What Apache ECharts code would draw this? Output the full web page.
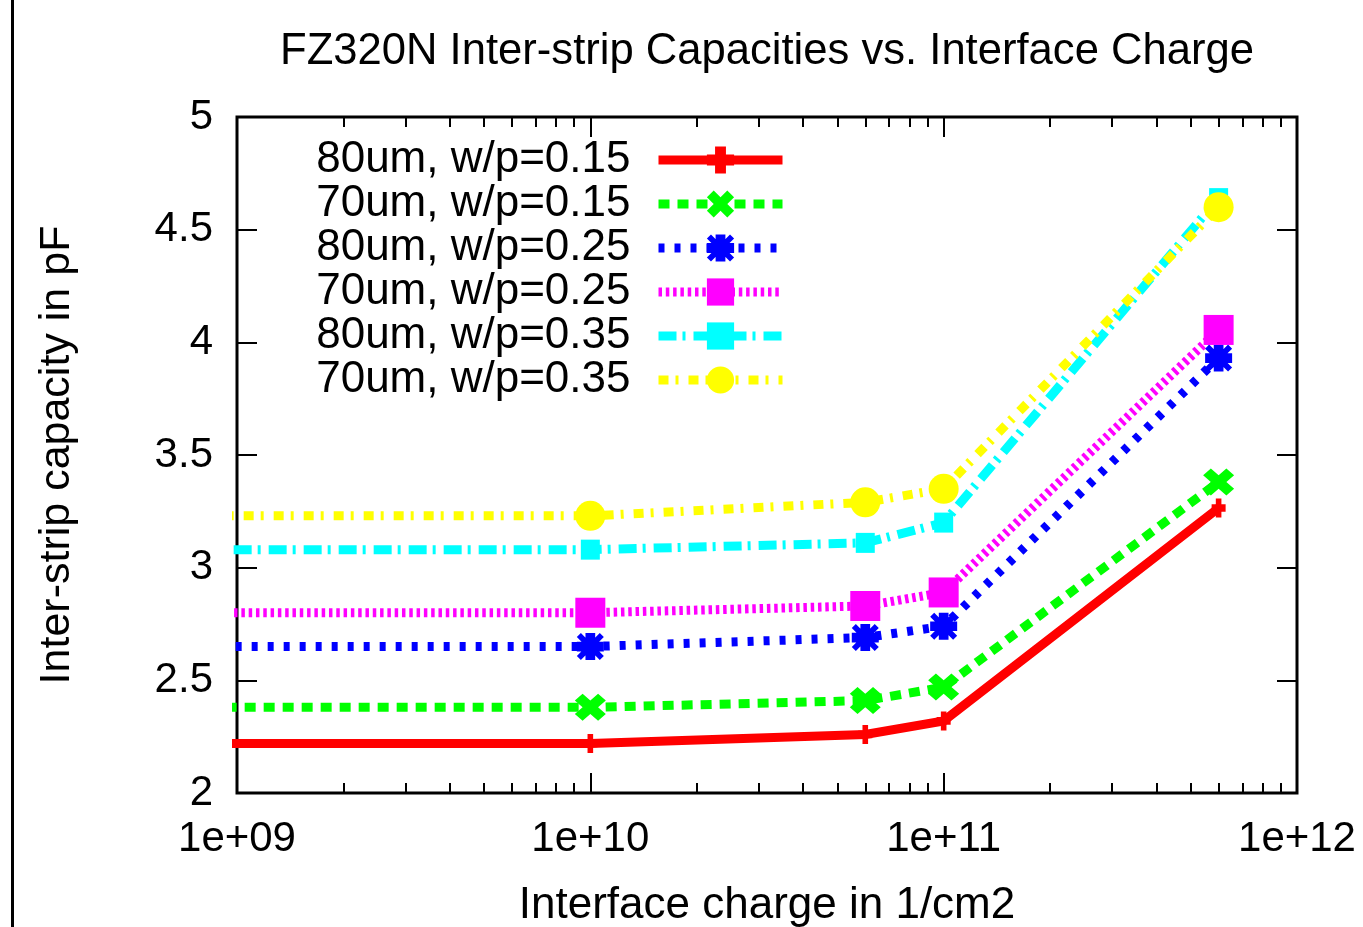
<!DOCTYPE html>
<html>
<head>
<meta charset="utf-8">
<script src="https://cdn.jsdelivr.net/npm/echarts@6/dist/echarts.min.js"></script>
<style>
  html, body { margin: 0; padding: 0; background: #fff; }
  #chart { width: 1363px; height: 927px; }
</style>
</head>
<body>
<div id="chart"></div>
<script>
// Interface charge (1/cm2) of the simulated points
const charges = [1e8, 1e10, 6e10, 1e11, 6e11];

// Inter-strip capacity in pF per geometry
const c80w15 = [2.22, 2.22, 2.26, 2.32, 3.265];
const c70w15 = [2.38, 2.38, 2.41, 2.47, 3.38];
const c80w25 = [2.65, 2.65, 2.69, 2.74, 3.93];
const c70w25 = [2.80, 2.80, 2.83, 2.89, 4.055];
const c80w35 = [3.08, 3.08, 3.11, 3.20, 4.64];
const c70w35 = [3.23, 3.23, 3.29, 3.35, 4.60];

const seriesNames = [
  '80um, w/p=0.15', '70um, w/p=0.15', '80um, w/p=0.25',
  '70um, w/p=0.25', '80um, w/p=0.35', '70um, w/p=0.35'
];

// Axis ranges and tick positions
const xDecades = [9, 10, 11, 12];
const yMin = 2, yMax = 5, yStep = 0.5;

const minorTicks = [];
for (let d = xDecades[0]; d < xDecades[xDecades.length - 1]; d++) {
  for (let m = 2; m <= 9; m++) minorTicks.push(m * Math.pow(10, d));
}

const FONT = 'Liberation Sans, Arial, Helvetica, sans-serif';

// gnuplot-like point glyphs
const SYM_PLUS = 'path://M3,0H7V3H10V7H7V10H3V7H0V3H3Z';
const SYM_CROSS = 'path://M0,2.5L2.5,0L5,2.5L7.5,0L10,2.5L7.5,5L10,7.5L7.5,10L5,7.5L2.5,10L0,7.5L2.5,5Z';
const SYM_STAR = 'path://M3.2,0H6.8V3.2H10V6.8H6.8V10H3.2V6.8H0V3.2H3.2Z M1.5,0L5,3.5L8.5,0L10,1.5L6.5,5L10,8.5L8.5,10L5,6.5L1.5,10L0,8.5L3.5,5L0,1.5Z';

const styles = [
  { values: c80w15, color: '#ff0000', dash: 'solid',          symbol: SYM_PLUS,  size: [14, 19] },
  { values: c70w15, color: '#00ff00', dash: [11, 8],          symbol: SYM_CROSS, size: [31, 27] },
  { values: c80w25, color: '#0000ff', dash: [6, 10],          symbol: SYM_STAR,  size: 27 },
  { values: c70w25, color: '#ff00ff', dash: [3.5, 3.8],       symbol: 'rect',    size: 30 },
  { values: c80w35, color: '#00ffff', dash: [18, 6, 3, 8],    symbol: 'rect',    size: [19, 20] },
  { values: c70w35, color: '#ffff00', dash: [10, 7, 3, 10],   symbol: 'circle',  size: 30 }
];

const series = styles.map((s, i) => ({
  name: seriesNames[i],
  type: 'line',
  xAxisIndex: 0,
  yAxisIndex: 0,
  data: charges.map((x, k) => [x, s.values[k]]),
  symbol: s.symbol,
  symbolSize: s.size,
  showAllSymbol: true,
  clip: true,
  animation: false,
  lineStyle: { color: s.color, width: 9, type: s.dash, cap: 'butt', join: 'miter' },
  itemStyle: { color: s.color, borderWidth: 0 },
  emphasis: { disabled: true }
}));

const tickStyle = { color: '#000', width: 2 };
const hidden = { show: false };

const chart = echarts.init(document.getElementById('chart'), null, { renderer: 'canvas' });
chart.setOption({
  backgroundColor: '#fff',
  animation: false,
  title: {
    text: 'FZ320N Inter-strip Capacities vs. Interface Charge',
    left: 280,
    top: 30,
    padding: 0,
    textStyle: { fontFamily: FONT, fontSize: 43.6, fontWeight: 'normal', color: '#000' }
  },
  legend: {
    orient: 'vertical',
    right: 576,
    top: 138,
    padding: 0,
    itemGap: 0,
    itemWidth: 124,
    itemHeight: 34,
    align: 'right',
    selectedMode: false,
    data: seriesNames,
    lineStyle: { width: 9, cap: 'butt' },
    textStyle: { fontFamily: FONT, fontSize: 44, color: '#000', lineHeight: 44, padding: [0, 23, 0, 0] }
  },
  grid: [
    { left: 237, right: 66, top: 117, bottom: 134, outerBoundsMode: 'none', show: true, borderColor: '#000', borderWidth: 3, backgroundColor: 'transparent' },
    { left: 237, right: 66, top: 117, bottom: 134, outerBoundsMode: 'none', show: false }
  ],
  xAxis: [
    {
      type: 'log', logBase: 10, gridIndex: 0, position: 'bottom',
      min: Math.pow(10, xDecades[0]), max: Math.pow(10, xDecades[xDecades.length - 1]),
      axisLine: hidden,
      axisTick: { inside: true, length: 20, lineStyle: tickStyle },
      axisLabel: {
        fontFamily: FONT, fontSize: 42, color: '#000', margin: 25,
        formatter: v => {
          const e = Math.round(Math.log10(v));
          return '1e+' + (e < 10 ? '0' + e : String(e));
        }
      },
      splitLine: hidden,
      name: 'Interface charge in 1/cm2',
      nameLocation: 'middle',
      nameGap: 91,
      nameTextStyle: { fontFamily: FONT, fontSize: 44, color: '#000' }
    },
    {
      type: 'log', logBase: 10, gridIndex: 0, position: 'top',
      min: Math.pow(10, xDecades[0]), max: Math.pow(10, xDecades[xDecades.length - 1]),
      axisLine: hidden,
      axisTick: { inside: true, length: 20, lineStyle: tickStyle },
      axisLabel: hidden, splitLine: hidden
    },
    {
      type: 'log', logBase: 10, gridIndex: 1, position: 'bottom',
      min: Math.pow(10, xDecades[0]), max: Math.pow(10, xDecades[xDecades.length - 1]),
      axisLine: hidden,
      axisTick: { inside: true, length: 10, lineStyle: tickStyle, customValues: minorTicks },
      axisLabel: hidden, splitLine: hidden
    },
    {
      type: 'log', logBase: 10, gridIndex: 1, position: 'top',
      min: Math.pow(10, xDecades[0]), max: Math.pow(10, xDecades[xDecades.length - 1]),
      axisLine: hidden,
      axisTick: { inside: true, length: 10, lineStyle: tickStyle, customValues: minorTicks },
      axisLabel: hidden, splitLine: hidden
    }
  ],
  yAxis: [
    {
      type: 'value', gridIndex: 0, position: 'left',
      min: yMin, max: yMax, interval: yStep,
      axisLine: hidden,
      axisTick: { inside: true, length: 20, lineStyle: tickStyle },
      axisLabel: { fontFamily: FONT, fontSize: 42, color: '#000', margin: 24 },
      splitLine: hidden,
      name: 'Inter-strip capacity in pF',
      nameLocation: 'middle',
      nameGap: 158,
      nameTextStyle: { fontFamily: FONT, fontSize: 43, color: '#000' }
    },
    {
      type: 'value', gridIndex: 0, position: 'right',
      min: yMin, max: yMax, interval: yStep,
      axisLine: hidden,
      axisTick: { inside: true, length: 20, lineStyle: tickStyle },
      axisLabel: hidden, splitLine: hidden
    },
    {
      type: 'value', gridIndex: 1, position: 'left',
      min: yMin, max: yMax, interval: yStep,
      show: false
    }
  ],
  graphic: [
    {
      type: 'line',
      shape: { x1: 12.5, y1: 0, x2: 12.5, y2: 927 },
      style: { stroke: '#000', lineWidth: 3 },
      silent: true
    }
  ],
  series: series
});
</script>
</body>
</html>
